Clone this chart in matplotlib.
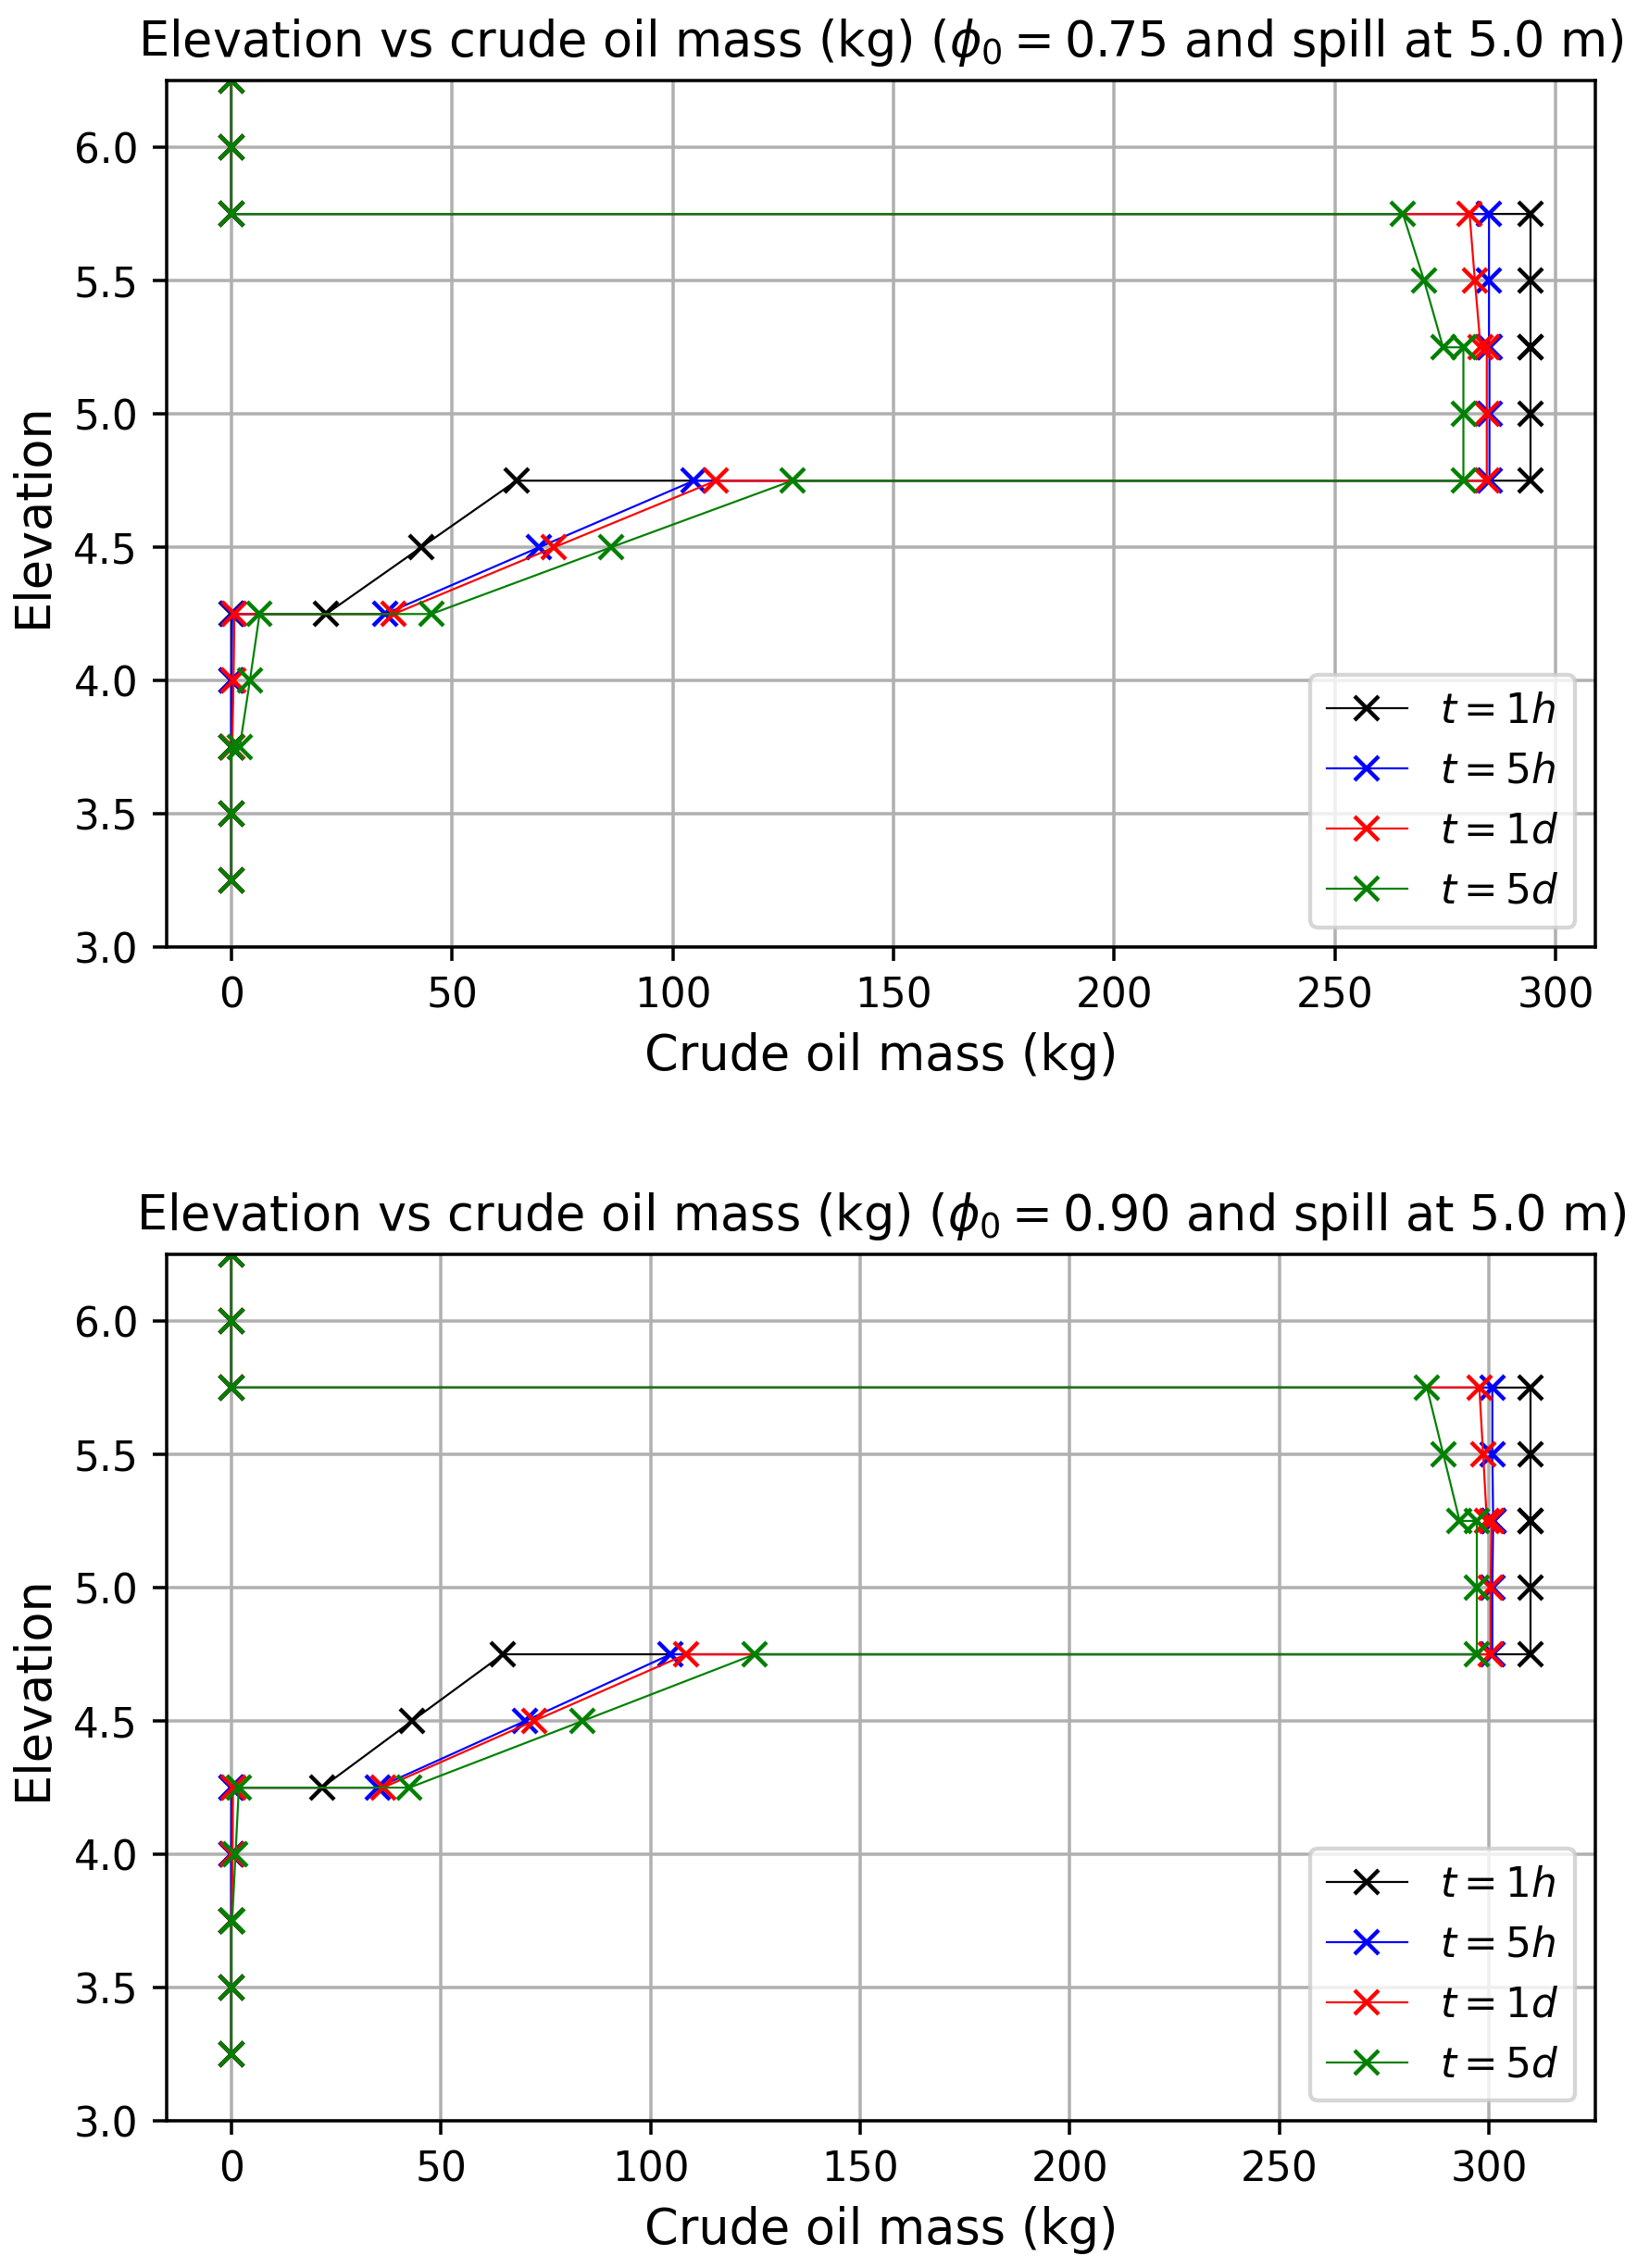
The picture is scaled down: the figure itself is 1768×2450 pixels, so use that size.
import numpy as np
import matplotlib
matplotlib.use("Agg")
import matplotlib.pyplot as plt

# elevation of each point along the profile (top -> bottom, 6 layers x 3 points)
elevation = [6.25, 6.0, 5.75,
             5.75, 5.5, 5.25,
             5.25, 5.0, 4.75,
             4.75, 4.5, 4.25,
             4.25, 4.0, 3.75,
             3.75, 3.5, 3.25]

labels = [r'$t = 1h$', r'$t = 5h$', r'$t = 1d$', r'$t = 5d$']
colors = ['k', 'b', 'r', 'g']

# phi_0 = 0.75
mass_075_1h = [0, 0, 0, 294.3, 294.3, 294.3, 294.3, 294.3, 294.3,
               64.6, 43.0, 21.5, 0, 0, 0, 0, 0, 0]
mass_075_5h = [0, 0, 0, 284.9, 284.9, 284.9, 285.0, 285.0, 285.0,
               104.8, 69.7, 34.8, 0.2, 0, 0, 0, 0, 0]
mass_075_1d = [0, 0, 0, 280.5, 281.7, 283.0, 284.4, 284.4, 284.4,
               109.8, 73.1, 36.8, 0.7, 0.5, 0.2, 0, 0, 0]
mass_075_5d = [0, 0, 0, 265.4, 270.2, 274.5, 279.1, 279.1, 279.1,
               127.1, 86.0, 45.3, 6.4, 4.2, 1.9, 0, 0, 0]

# phi_0 = 0.90
mass_090_1h = [0, 0, 0, 309.9, 309.9, 309.9, 309.9, 309.9, 309.9,
               64.8, 43.1, 21.6, 0, 0, 0, 0, 0, 0]
mass_090_5h = [0, 0, 0, 300.8, 300.8, 301.0, 301.0, 300.8, 300.8,
               104.8, 70.1, 34.9, 0.1, 0, 0, 0, 0, 0]
mass_090_1d = [0, 0, 0, 297.7, 298.6, 299.5, 300.6, 300.4, 300.4,
               108.5, 72.2, 36.2, 0.4, 0.3, 0.1, 0, 0, 0]
mass_090_5d = [0, 0, 0, 285.2, 289.1, 293.0, 297.1, 297.1, 297.1,
               124.9, 83.8, 42.5, 1.8, 1.0, 0.2, 0, 0, 0]

cases = [
    (0.75, [mass_075_1h, mass_075_5h, mass_075_1d, mass_075_5d]),
    (0.90, [mass_090_1h, mass_090_5h, mass_090_1d, mass_090_5d]),
]

DPI = 315
fig = plt.figure(figsize=(1768.4 / DPI, 2450.4 / DPI), dpi=DPI)
fig.subplots_adjust(left=0.1016, right=0.9744, top=0.9643, bottom=0.0648, hspace=0.354)

for k, (phi0, series) in enumerate(cases):
    ax = fig.add_subplot(2, 1, k + 1)
    for mass, lab, c in zip(series, labels, colors):
        ax.plot(mass, elevation, color=c, marker='x', lw=0.5, label=lab)
    ax.set_ylim(3.0, 6.25)
    ax.set_yticks(np.arange(3.0, 6.01, 0.5))
    ax.set_title(r"Elevation vs crude oil mass (kg) ($\phi_0 = %.2f$ and spill at 5.0 m)" % phi0,
                 fontsize=12)
    ax.set_xlabel("Crude oil mass (kg)", fontsize=12)
    ax.set_ylabel("Elevation", fontsize=12)
    ax.grid()
    ax.legend(loc='lower right')

fig.savefig("out.png", dpi=DPI)
